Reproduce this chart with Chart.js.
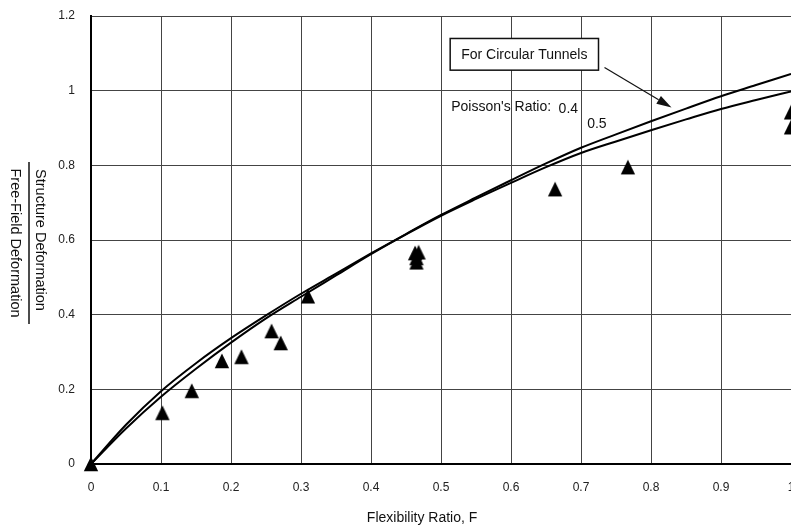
<!DOCTYPE html>
<html>
<head>
<meta charset="utf-8">
<script src="https://cdn.jsdelivr.net/npm/chart.js@4/dist/chart.umd.min.js"></script>
<style>
html, body { margin: 0; padding: 0; background: #fff; overflow: hidden; }
#wrap { width: 800px; height: 531px; }
</style>
</head>
<body>
<div id="wrap"><canvas id="c" width="800" height="531"></canvas></div>
<script>
// ---- data ----
const curveF = [0, 0.05, 0.1, 0.15, 0.2, 0.25, 0.3, 0.35, 0.4, 0.45, 0.5, 0.55, 0.6, 0.65, 0.7, 0.75, 0.8, 0.85, 0.9, 0.95, 1.0];
const ratioPoisson04 = [0, 0.105, 0.195, 0.27, 0.337, 0.398, 0.456, 0.51, 0.564, 0.616, 0.667, 0.714, 0.760, 0.805, 0.847, 0.883, 0.918, 0.952, 0.985, 1.015, 1.045];
const ratioPoisson05 = [0, 0.095, 0.18, 0.255, 0.325, 0.39, 0.448, 0.505, 0.562, 0.615, 0.665, 0.71, 0.753, 0.795, 0.833, 0.864, 0.894, 0.923, 0.951, 0.975, 0.998];
const measuredF =     [0, 0.102, 0.144, 0.187, 0.215, 0.258, 0.271, 0.31, 0.463, 0.468, 0.465, 0.465, 0.663, 0.767, 1.0, 1.0];
const measuredRatio = [0, 0.137, 0.196, 0.276, 0.287, 0.356, 0.324, 0.449, 0.565, 0.567, 0.552, 0.54, 0.736, 0.795, 0.942, 0.902];
const xTickValues = [0, 0.1, 0.2, 0.3, 0.4, 0.5, 0.6, 0.7, 0.8, 0.9, 1];
const yTickValues = [0, 0.2, 0.4, 0.6, 0.8, 1, 1.2];
const xTitle = "Flexibility Ratio, F";
const yTitleTop = "Structure Deformation";
const yTitleBottom = "Free-Field Deformation";
const boxText = "For Circular Tunnels";
const poissonLabel = "Poisson's Ratio:";
const poissonValues = ["0.4", "0.5"];

// ---- triangle marker ----
const tri = document.createElement('canvas');
tri.width = 16; tri.height = 16;
(function () {
  const t = tri.getContext('2d');
  t.fillStyle = '#000';
  t.beginPath();
  t.moveTo(8, 0.6);
  t.lineTo(15.2, 15.2);
  t.lineTo(0.8, 15.2);
  t.closePath();
  t.fill();
})();

const FONT = '"Liberation Sans", Arial, Helvetica, sans-serif';

const toXY = (xs, ys) => xs.map((x, i) => ({ x: x, y: ys[i] }));
const fmt = v => String(Number(Number(v).toFixed(2)));
const noPad = s => { s.paddingTop = 0; s.paddingBottom = 0; s.paddingLeft = 0; s.paddingRight = 0; };

const annot = {
  id: 'annot',
  afterDraw(chart) {
    const ctx = chart.ctx;
    const xs = chart.scales.x, ys = chart.scales.y;
    const px = v => xs.getPixelForValue(v);
    const py = v => ys.getPixelForValue(v);
    ctx.save();
    ctx.fillStyle = '#111';
    ctx.strokeStyle = '#111';

    // Box
    const bl = px(0.5131), br = px(0.725), bt = py(1.1398), bb = py(1.0549);
    ctx.lineWidth = 1.5;
    ctx.fillStyle = '#fff';
    ctx.fillRect(bl, bt, br - bl, bb - bt);
    ctx.strokeRect(bl, bt, br - bl, bb - bt);
    ctx.fillStyle = '#111';
    ctx.font = '14px ' + FONT;
    ctx.textAlign = 'center';
    ctx.textBaseline = 'middle';
    ctx.fillText(boxText, (bl + br) / 2, (bt + bb) / 2 + 1);

    // Arrow
    const ax0 = px(0.7336), ay0 = py(1.0621), ax1 = px(0.8293), ay1 = py(0.955);
    const ang = Math.atan2(ay1 - ay0, ax1 - ax0);
    const hl = 15, hw = 4.5;
    ctx.lineWidth = 1.2;
    ctx.beginPath();
    ctx.moveTo(ax0, ay0);
    ctx.lineTo(ax1 - hl * Math.cos(ang), ay1 - hl * Math.sin(ang));
    ctx.stroke();
    ctx.beginPath();
    ctx.moveTo(ax1, ay1);
    ctx.lineTo(ax1 - hl * Math.cos(ang) + hw * Math.sin(ang), ay1 - hl * Math.sin(ang) - hw * Math.cos(ang));
    ctx.lineTo(ax1 - hl * Math.cos(ang) - hw * Math.sin(ang), ay1 - hl * Math.sin(ang) + hw * Math.cos(ang));
    ctx.closePath();
    ctx.fill();

    // Poisson labels
    ctx.textAlign = 'left';
    ctx.textBaseline = 'alphabetic';
    ctx.font = '14px ' + FONT;
    ctx.fillText(poissonLabel, px(0.5145), py(0.945));
    ctx.fillText(poissonValues[0], px(0.668), py(0.9406));
    ctx.fillText(poissonValues[1], px(0.7088), py(0.8988));

    // X title
    ctx.textAlign = 'center';
    ctx.font = '14px ' + FONT;
    ctx.fillText(xTitle, px(0.473), xs.bottom - 9);

    // Y title (rotated clockwise)
    const cy = py(0.592);
    ctx.save();
    ctx.translate(40, cy - 3);
    ctx.rotate(Math.PI / 2);
    ctx.font = '14.5px ' + FONT;
    ctx.textAlign = 'center';
    ctx.textBaseline = 'middle';
    ctx.fillText(yTitleTop, 0, 0);
    ctx.restore();
    ctx.save();
    ctx.translate(15, cy);
    ctx.rotate(Math.PI / 2);
    ctx.font = '14.5px ' + FONT;
    ctx.textAlign = 'center';
    ctx.textBaseline = 'middle';
    ctx.fillText(yTitleBottom, 0, 0);
    ctx.restore();
    ctx.lineWidth = 1.5;
    ctx.beginPath();
    ctx.moveTo(29, cy - 81);
    ctx.lineTo(29, cy + 81);
    ctx.stroke();

    ctx.restore();
  }
};

new Chart(document.getElementById('c'), {
  type: 'scatter',
  data: {
    datasets: [
      {
        label: 'Poisson 0.4',
        data: toXY(curveF, ratioPoisson04),
        showLine: true,
        borderColor: '#000',
        borderWidth: 2,
        pointRadius: 0,
        cubicInterpolationMode: 'monotone',
        fill: false
      },
      {
        label: 'Poisson 0.5',
        data: toXY(curveF, ratioPoisson05),
        showLine: true,
        borderColor: '#000',
        borderWidth: 2,
        pointRadius: 0,
        cubicInterpolationMode: 'monotone',
        fill: false
      },
      {
        label: 'Measured',
        data: toXY(measuredF, measuredRatio),
        showLine: false,
        pointStyle: tri,
        pointRadius: 8,
        backgroundColor: '#000',
        borderColor: '#000',
        clip: false
      }
    ]
  },
  options: {
    responsive: false,
    animation: false,
    events: [],
    layout: { padding: { top: 16, right: 6, left: 0, bottom: 0 } },
    plugins: { legend: { display: false }, tooltip: { enabled: false } },
    scales: {
      x: {
        type: 'linear',
        min: 0, max: 1,
        afterFit: s => { s.height = 67; noPad(s); },
        afterBuildTicks: s => { s.ticks = xTickValues.map(v => ({ value: v })); },
        ticks: { callback: fmt, color: '#222', font: { family: FONT, size: 12 }, padding: 16, maxRotation: 0, autoSkip: false },
        grid: { color: '#444', lineWidth: 1, drawTicks: false },
        border: { color: '#000', width: 2 }
      },
      y: {
        type: 'linear',
        min: 0, max: 1.2,
        afterFit: s => { s.width = 91; noPad(s); },
        afterBuildTicks: s => { s.ticks = yTickValues.map(v => ({ value: v })); },
        ticks: { callback: fmt, color: '#222', font: { family: FONT, size: 12 }, padding: 16 },
        grid: { color: '#444', lineWidth: 1, drawTicks: false },
        border: { color: '#000', width: 2 }
      }
    }
  },
  plugins: [annot]
});
</script>
</body>
</html>
